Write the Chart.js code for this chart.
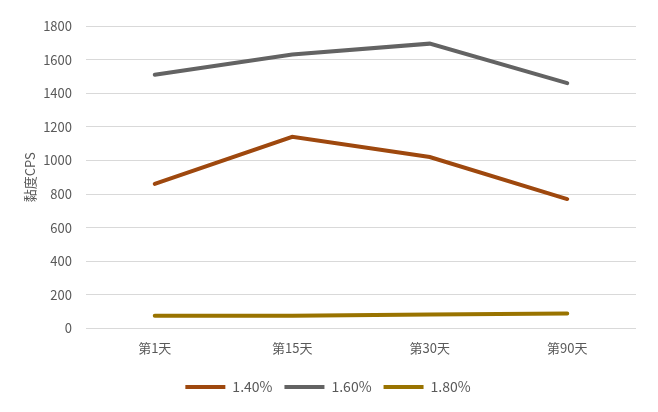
<!DOCTYPE html>
<html>
<head>
<meta charset="utf-8">
<script src="https://cdn.jsdelivr.net/npm/chart.js@4/dist/chart.umd.min.js"></script>
<style>
  html, body { margin: 0; padding: 0; background: #fff; }
  #wrap { width: 658px; height: 412px; }
</style>
</head>
<body>
<div id="wrap"><canvas id="grafica" width="658" height="412"></canvas></div>
<script>
// datos
const dias = ["第1天", "第15天", "第30天", "第90天"];
const serie140 = [860, 1140, 1020, 770];
const serie160 = [1510, 1630, 1695, 1460];
const serie180 = [75, 75, 82, 88];
const ticksY = [0, 200, 400, 600, 800, 1000, 1200, 1400, 1600, 1800];

const fuente = "'Noto Sans CJK SC', 'Noto Sans', sans-serif";
Chart.defaults.font.family = fuente;
Chart.defaults.font.size = 13;
Chart.defaults.color = "#595959";

function serie(label, data, color) {
    return {
        label,
        data,
        borderColor: color,
        backgroundColor: color,
        borderWidth: 4,
        pointRadius: 0,
        tension: 0,
        borderCapStyle: "round"
    };
}

new Chart(document.getElementById("grafica"), {
    type: "line",
    data: {
        labels: dias,
        datasets: [
            serie("1.40%", serie140, "#9E480E"),
            serie("1.60%", serie160, "#636363"),
            serie("1.80%", serie180, "#997300")
        ]
    },
    options: {
        responsive: false,
        animation: false,
        layout: { padding: { top: 26, right: 22, left: 20, bottom: 8 } },
        plugins: {
            legend: {
                position: "bottom",
                labels: {
                    usePointStyle: true,
                    pointStyle: "line",
                    pointStyleWidth: 40,
                    boxHeight: 4,
                    padding: 12,
                    font: { size: 14 }
                }
            },
            tooltip: { enabled: false }
        },
        scales: {
            x: {
                offset: true,
                grid: { display: false },
                border: { display: false },
                ticks: { padding: 4 },
                afterFit: axis => { axis.height += 8; }
            },
            y: {
                min: 0,
                max: 1800,
                afterBuildTicks: axis => {
                    axis.ticks = ticksY.map(v => ({ value: v }));
                },
                afterFit: axis => { axis.width = 66; },
                grid: { color: "#d9d9d9", lineWidth: 1, drawTicks: false },
                border: { display: false },
                ticks: { padding: 14, callback: v => String(v) },
                title: {
                    display: true,
                    text: "黏度CPS",
                    font: { size: 13 },
                    padding: 2
                }
            }
        }
    }
});
</script>
</body>
</html>
